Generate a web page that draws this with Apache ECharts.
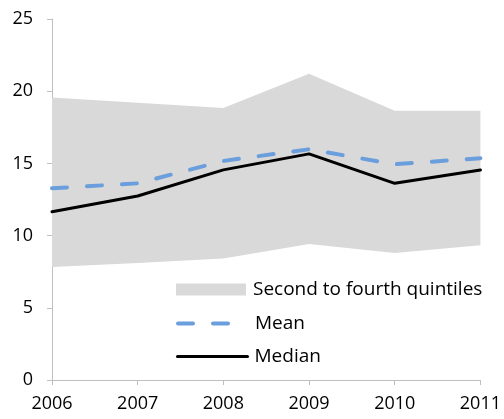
<!DOCTYPE html>
<html>
<head>
<meta charset="utf-8">
<script src="https://cdn.jsdelivr.net/npm/echarts@6/dist/echarts.min.js"></script>
<style>html,body{margin:0;padding:0;background:#fff;}#c{width:504px;height:419px;}</style>
</head>
<body>
<div id="c"></div>
<script>
var years = ['2006', '2007', '2008', '2009', '2010', '2011'];
var lowerQ = [7.83, 8.1, 8.42, 9.41, 8.8, 9.34];
var upperQ = [19.57, 19.2, 18.83, 21.2, 18.65, 18.65];
var meanVals = [13.28, 13.62, 15.17, 15.98, 14.94, 15.36];
var medianVals = [11.65, 12.74, 14.55, 15.66, 13.62, 14.55];
var yTicks = [0, 5, 10, 15, 20, 25];

var FONT = 'Open Sans';
var bandWidth = upperQ.map(function (u, i) { return +(u - lowerQ[i]).toFixed(3); });
var BAND = '#d9d9d9', MEANC = '#6b9edc', AXISC = '#bfbfbf';
var meanLine = {color: MEANC, width: 4, type: [15, 20], cap: 'round'};
var medianLine = {color: '#000', width: 3, cap: 'round'};

var chart = echarts.init(document.getElementById('c'), null, {renderer: 'canvas'});
function legendAt(top, item, extra) {
  return Object.assign({
    left: 176, top: top, orient: 'vertical', itemWidth: 70, itemHeight: 14,
    selectedMode: false, padding: 0,
    textStyle: {fontFamily: FONT, fontSize: 19, color: '#000', padding: [0, 0, 0, 2]},
    data: [item]
  }, extra || {});
}
chart.setOption({
  animation: false,
  grid: {left: 52, right: 22, top: 19, bottom: 39},
  legend: [
    legendAt(280, {name: 'Second to fourth quintiles', icon: 'rect', itemStyle: {color: BAND}}, {itemHeight: 12}),
    legendAt(314, {name: 'Mean', itemStyle: {opacity: 0}, lineStyle: meanLine}),
    legendAt(347, {name: 'Median', itemStyle: {opacity: 0}, lineStyle: medianLine})
  ],
  xAxis: {
    type: 'category', data: years, boundaryGap: false,
    axisLine: {lineStyle: {color: AXISC, width: 1}},
    axisTick: {show: true, length: 5, lineStyle: {color: AXISC}},
    axisLabel: {fontFamily: FONT, fontSize: 18, color: '#000', margin: 15}
  },
  yAxis: {
    type: 'value', min: yTicks[0], max: yTicks[yTicks.length - 1], interval: 5,
    axisLine: {show: true, lineStyle: {color: AXISC, width: 1}},
    axisTick: {show: true, length: 5, lineStyle: {color: AXISC}},
    splitLine: {show: false},
    axisLabel: {fontFamily: FONT, fontSize: 18, color: '#000', margin: 19}
  },
  series: [
    {name: 'lower', type: 'line', data: lowerQ, stack: 'band', symbol: 'none',
     lineStyle: {opacity: 0}, silent: true, z: 1},
    {name: 'Second to fourth quintiles', type: 'line', data: bandWidth, stack: 'band', symbol: 'none',
     lineStyle: {opacity: 0}, areaStyle: {color: BAND, opacity: 1}, itemStyle: {color: BAND}, z: 1},
    {name: 'Median', type: 'line', data: medianVals, symbol: 'none',
     lineStyle: medianLine, itemStyle: {color: '#000'}, z: 3},
    {name: 'Mean', type: 'line', data: meanVals, symbol: 'none',
     lineStyle: meanLine, itemStyle: {color: MEANC}, z: 4}
  ]
});
</script>
</body>
</html>
